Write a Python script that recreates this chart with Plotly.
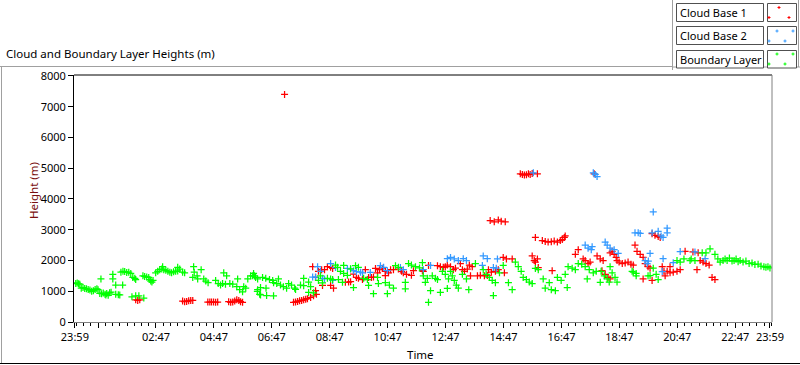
import plotly.graph_objects as go

# ---------------- data (hours after 23:59, height in m) ----------------
cloud_base_1 = [
    (2.10,720),(2.17,700),(2.24,720),
    (3.72,680),(3.79,660),(3.86,670),(3.93,690),(4.00,700),(4.07,700),
    (4.59,650),(4.66,650),(4.72,650),(4.79,650),(4.86,640),(4.93,650),
    (5.31,660),(5.38,640),(5.45,650),(5.52,680),(5.59,720),(5.66,700),(5.72,660),(5.79,640),
    (7.24,7400),
    (7.55,640),(7.62,650),(7.69,670),(7.76,690),(7.83,700),(7.90,720),(7.97,740),(8.03,760),
    (8.14,800),(8.24,850),(8.34,900),
    (8.21,1800),(8.31,1450),(8.31,1020),
    (8.41,1650),(8.52,1700),(8.62,1700),(8.55,1190),
    (8.72,1800),(8.83,1780),(8.90,1740),(8.83,1190),(8.93,1100),
    (9.34,1290),(9.45,1300),(9.52,1310),
    (9.62,1560),(9.72,1450),(9.79,1420),(9.93,1380),
    (10.03,1700),(10.14,1450),(10.24,1450),(10.31,1460),(10.38,1740),
    (10.45,1600),(10.52,1700),(10.62,1750),(10.72,1650),(10.83,1600),(10.90,1700),(10.72,1510),
    (11.00,1700),(11.17,1720),(11.28,1650),(11.34,1600),(11.45,1550),(11.62,1520),(11.69,1670),
    (12.00,1670),(12.03,1650),(12.21,1840),
    (12.52,1830),(12.62,1800),(12.72,1780),(12.79,1800),(12.86,1850),
    (12.97,1800),(13.07,1700),(13.14,1750),
    (13.31,1900),(13.38,1700),(13.45,1650),(13.55,1720),(13.62,1850),(13.72,1800),(13.66,1500),
    (13.90,1500),(14.00,1520),(14.14,1500),(14.24,1510),
    (14.28,1700),(14.38,1620),(14.52,1650),(14.62,1700),
    (14.34,3300),(14.48,3260),(14.62,3320),(14.72,3280),(14.86,3260),
    (14.79,2100),(14.90,2050),(15.10,2050),(14.83,1600),
    (15.38,4820),(15.45,4800),(15.52,4780),(15.59,4790),(15.66,4820),(15.72,4800),(15.79,4830),(15.97,4820),
    (15.79,2150),(15.86,2000),(15.90,1950),(15.97,2050),(16.00,1770),
    (15.90,2750),
    (16.14,2650),(16.24,2620),(16.34,2600),(16.45,2610),(16.55,2630),(16.66,2600),(16.76,2650),(16.83,2680),(16.90,2750),(16.93,2800),
    (16.48,1670),
    (17.28,2200),(17.38,2350),(17.55,2050),(17.62,2000),(17.72,1900),(17.79,1950),
    (17.93,4820),
    (18.03,2150),(18.14,2050),(18.24,2000),(18.20,1670),
    (18.31,1550),(18.41,1450),(18.48,1400),
    (18.48,2250),(18.55,2300),(18.62,2200),(18.69,2100),(18.72,2000),
    (18.79,1950),(18.90,1900),(19.00,1920),(19.10,1950),(19.20,1880),(19.28,1850),
    (19.34,2500),(19.41,2300),(19.52,2200),(19.62,2100),
    (19.69,1900),(19.79,1800),(19.86,1750),(19.62,1400),(19.93,1350),
    (19.93,2870),(20.03,2820),(20.14,2780),(20.21,2750),
    (20.28,1800),(20.34,1650),(20.38,1500),
    (20.45,1650),(20.55,1600),(20.66,1620),(20.79,1650),(20.90,1700),(20.55,1800),
    (21.07,2300),(21.34,2280),(21.52,2250),(21.48,1700),
    (21.59,2000),(21.69,1950),(21.79,1900),(21.90,1850),
    (22.00,1450),(22.10,1380),
]

cloud_base_2 = [
    (8.21,1460),(8.31,1460),(8.38,1800),(8.48,1650),(8.55,1420),(8.62,1400),
    (8.83,1900),(8.90,1350),(9.00,1770),
    (9.41,1740),(9.52,1720),(9.62,1670),(9.72,1640),(9.86,1620),(9.93,1600),
    (10.20,1610),(10.55,1830),(10.66,1780),(10.79,1670),
    (11.24,1770),(11.34,1700),(12.03,1700),(12.28,1840),(12.86,2060),
    (12.97,2100),(13.10,2050),(13.24,2000),(13.41,2060),(13.52,2000),
    (14.07,1840),(14.10,2150),(14.24,2060),(14.45,1770),(14.55,1750),(14.59,2050),
    (15.83,4850),
    (17.62,2500),(17.72,2400),(17.83,2350),(17.86,2450),
    (17.90,4850),(17.97,4800),(18.03,4730),
    (18.31,2600),(18.38,2500),(18.48,2400),(18.62,2350),(18.76,2230),
    (19.34,2900),(19.45,2900),(19.52,2880),
    (19.69,2000),(19.76,1900),(19.80,1980),(19.86,2230),
    (19.93,2900),(19.97,3580),
    (20.14,2950),(20.24,2800),(20.31,2750),(20.45,3050),(20.45,2900),
    (20.28,1640),(20.31,2060),(20.66,1930),(20.90,2290),
    (21.41,2280),(21.76,2060),
]

boundary_layer = [
    (0.03,1250),(0.08,1270),(0.13,1240),(0.17,1230),
    (0.22,1100),(0.28,1120),(0.34,1090),(0.40,1080),(0.46,1060),(0.52,1040),(0.58,1000),(0.64,1020),(0.70,1060),(0.76,1080),(0.80,1050),
    (0.86,930),(0.92,920),(0.98,940),(1.04,900),(1.10,930),(0.90,1400),
    (1.07,880),(1.15,870),(1.20,950),(1.25,970),
    (1.31,1550),(1.31,1400),(1.41,1200),
    (1.41,900),(1.50,890),(1.55,880),
    (1.59,1620),(1.66,1650),(1.72,1640),(1.79,1610),(1.86,1620),(1.93,1580),(1.65,1200),
    (1.97,820),(2.00,1450),(2.07,1420),(2.10,1380),(2.10,850),(2.21,850),(2.38,780),
    (2.35,1500),(2.41,1480),(2.48,1460),(2.55,1450),
    (2.59,1380),(2.62,1330),(2.66,1300),(2.70,1350),
    (2.79,1600),(2.86,1650),(2.93,1700),(3.00,1720),(3.07,1700),(3.03,1800),
    (3.14,1680),(3.21,1650),(3.28,1620),(3.34,1600),(3.41,1630),(3.48,1650),(3.55,1660),(3.55,1780),(3.62,1720),(3.72,1620),(3.79,1600),
    (4.07,1450),(4.10,1800),(4.12,1620),(4.22,1500),(4.24,1400),(4.36,1700),(4.45,1400),(4.52,1330),(4.60,1280),
    (4.86,1350),(4.95,1250),(5.03,1200),(5.14,1600),(5.24,1500),(5.10,1250),(5.20,1230),(5.35,1250),(5.45,1230),
    (5.62,1400),(5.59,1150),(5.69,1050),(5.79,980),(5.83,1150),(5.90,1100),
    (5.97,1400),(6.07,1500),(6.17,1580),(6.20,1500),(6.30,1000),(6.38,900),
    (6.14,1500),(6.24,1450),(6.31,1400),(6.31,1050),
    (6.48,1450),(6.59,1420),(6.72,1380),(6.83,1350),(6.41,1120),(6.60,1100),
    (6.41,880),(6.62,860),(6.86,850),
    (6.86,1280),(6.97,1250),(7.10,1200),(7.20,1150),(7.31,1100),(7.03,1400),
    (7.38,1250),(7.48,1200),(7.59,1100),(7.62,1060),
    (7.79,1200),(7.90,1180),(7.90,1420),(8.07,1300),(8.14,1150),(8.07,960),(8.24,950),
    (8.41,1350),(8.55,1270),(8.48,1500),(8.72,1420),(8.83,1400),(8.90,1380),
    (9.00,1850),(9.07,1780),(9.10,1380),(9.17,1650),(9.28,1580),(9.41,1520),(9.28,1840),(9.24,1290),
    (9.52,1730),(9.69,1830),(9.79,1780),(9.62,1120),(9.97,1420),(10.10,1380),(10.14,1190),(10.31,920),
    (10.45,1450),(10.48,1250),(10.72,1280),(10.86,1200),(11.00,1100),(10.79,920),
    (11.07,1830),(11.17,1780),(11.41,1290),(11.41,1080),
    (11.52,1900),(11.62,1850),(11.76,1800),(11.90,1760),(12.00,1930),
    (12.03,1500),(12.17,1420),(12.10,1290),(12.21,640),(12.28,1020),
    (12.34,1500),(12.45,1420),(12.52,1380),(12.62,960),
    (12.69,1650),(12.79,1550),(12.90,1400),(12.86,1090),
    (12.97,1650),(13.03,1500),(13.10,1350),(13.17,1200),(13.24,1100),(13.38,1550),(13.52,1400),(13.60,1050),
    (13.83,1900),(14.10,1700),(14.20,1550),(14.31,1450),(14.41,1350),(14.52,1280),(14.66,1600),(14.45,860),
    (14.79,1840),(14.97,1280),(15.10,1050),(15.21,1950),(15.31,1800),(15.41,1650),
    (15.48,1450),(15.59,1380),(15.69,1300),(15.79,1250),(15.90,1740),(16.00,1700),
    (16.17,1400),(16.38,1280),(16.24,1100),(16.45,1050),(16.59,1020),
    (16.66,1450),(16.79,1350),(16.93,1550),(17.03,1800),(17.17,1750),(17.28,1700),(17.00,1120),
    (17.38,1900),(17.50,1880),(17.62,1800),(17.76,1700),(17.90,1600),(18.00,1650),(17.69,1400),
    (18.14,1290),(18.17,1650),(18.28,1500),(18.38,1400),(18.45,1300),
    (18.48,1800),(18.55,1600),(18.65,1450),(18.72,1300),
    (19.24,1650),(19.28,1620),(19.38,1500),(19.38,1580),(19.79,1500),(19.86,1510),
    (19.97,1750),(20.07,1550),(20.14,1380),
    (20.79,2000),(20.90,1950),(21.03,2050),(21.24,2000),(21.28,2050),(21.41,2000),
    (21.66,2250),(21.79,2250),(21.93,2380),
    (22.10,2200),(22.20,2050),(22.28,1950),(22.38,2000),
    (22.45,2050),(22.52,2000),(22.60,2080),(22.69,1980),(22.76,2000),(22.83,2050),(22.90,1960),(22.97,2000),
    (23.07,1950),(23.17,1980),(23.28,1900),(23.38,1920),(23.48,1870),(23.59,1880),(23.69,1820),(23.79,1800),
    (23.86,1780),(23.93,1800),(24.00,1760),
]

series_names = ["Cloud Base 1", "Cloud Base 2", "Boundary Layer"]
series_colors = ["#ff0000", "#3399ff", "#00ff00"]
series_data = [cloud_base_1, cloud_base_2, boundary_layer]

x_tick_hours = [0, 0.8, 2.8, 4.8, 6.8, 8.8, 10.8, 12.8, 14.8, 16.8, 18.8, 20.8, 22.8, 24]
x_tick_labels = ["23:59", "", "02:47", "04:47", "06:47", "08:47", "10:47", "12:47",
                 "14:47", "16:47", "18:47", "20:47", "22:47", "23:59"]
y_tick_values = [0, 1000, 2000, 3000, 4000, 5000, 6000, 7000, 8000]

# ---------------- layout geometry ----------------
W, H = 800, 365
L, R, T, B = 74, 28, 75, 43
PW, PH = W - L - R, H - T - B
FONT = "Noto Sans"


def pxx(x):
    return (x - L) / PW


def pxy(y):
    return (H - B - y) / PH


fig = go.Figure()
for name, data, color in zip(series_names, series_data, series_colors):
    xs = [p[0] for p in data]
    ys = [p[1] for p in data]
    fig.add_trace(go.Scatter(
        x=xs, y=ys, mode="markers", name=name, showlegend=False,
        marker=dict(symbol="cross-thin", size=5, color=color,
                    line=dict(color=color, width=1.25)),
        hoverinfo="skip"))

shapes = []
# plot frame: top black, right gray
shapes.append(dict(type="line", xref="paper", yref="paper", x0=0, x1=1, y0=1, y1=1,
                   line=dict(color="black", width=1)))
shapes.append(dict(type="line", xref="paper", yref="paper", x0=1, x1=1, y0=0, y1=1,
                   line=dict(color="#808080", width=1)))
# outer frame
shapes.append(dict(type="line", xref="paper", yref="paper", x0=pxx(0), x1=pxx(673),
                   y0=pxy(66.5), y1=pxy(66.5), line=dict(color="#a0a0a0", width=1)))
shapes.append(dict(type="line", xref="paper", yref="paper", x0=pxx(1.5), x1=pxx(1.5),
                   y0=pxy(66.5), y1=pxy(363.5), line=dict(color="#a0a0a0", width=1)))
shapes.append(dict(type="line", xref="paper", yref="paper", x0=pxx(0), x1=pxx(800),
                   y0=pxy(363.5), y1=pxy(363.5), line=dict(color="black", width=1)))
# legend panel edges
shapes.append(dict(type="line", xref="paper", yref="paper", x0=pxx(672.5), x1=pxx(672.5),
                   y0=pxy(0), y1=pxy(70), line=dict(color="#a0a0a0", width=1)))
shapes.append(dict(type="line", xref="paper", yref="paper", x0=pxx(672.5), x1=pxx(800),
                   y0=pxy(67), y1=pxy(67), line=dict(color="#a0a0a0", width=1)))
shapes.append(dict(type="line", xref="paper", yref="paper", x0=pxx(798.5), x1=pxx(798.5),
                   y0=pxy(0), y1=pxy(67), line=dict(color="#a0a0a0", width=1)))

annotations = []
# legend boxes
rows_y = [(3.5, 21.5), (26.5, 44.5), (50.5, 68)]
cross_pos = [
    [(779, 7.5), (769, 17.5), (789, 17.5)],
    [(777, 31), (793, 31), (769, 41), (785, 41)],
    [(777, 54), (793, 54), (769, 64), (785, 64)],
]
for (ya, yb), name, color, crosses in zip(rows_y, series_names, series_colors, cross_pos):
    shapes.append(dict(type="rect", xref="paper", yref="paper",
                       x0=pxx(676.5), x1=pxx(763.5), y0=pxy(yb), y1=pxy(ya),
                       line=dict(color="#505050", width=1), fillcolor="white"))
    shapes.append(dict(type="rect", xref="paper", yref="paper",
                       x0=pxx(767.5), x1=pxx(796.5), y0=pxy(yb), y1=pxy(ya),
                       line=dict(color="#505050", width=1), fillcolor="white"))
    annotations.append(dict(xref="paper", yref="paper", x=pxx(678), y=pxy((ya + yb) / 2),
                            text=name, showarrow=False, xanchor="left", yanchor="middle",
                            font=dict(family=FONT, size=11, color="black")))
    for cx, cy in crosses:
        shapes.append(dict(type="line", xref="paper", yref="paper",
                           x0=pxx(cx - 1.5), x1=pxx(cx + 1.5), y0=pxy(cy), y1=pxy(cy),
                           line=dict(color=color, width=1)))
        shapes.append(dict(type="line", xref="paper", yref="paper",
                           x0=pxx(cx), x1=pxx(cx), y0=pxy(cy - 1.5), y1=pxy(cy + 1.5),
                           line=dict(color=color, width=1)))

# chart title
annotations.append(dict(xref="paper", yref="paper", x=pxx(4), y=pxy(53),
                        text="Cloud and Boundary Layer Heights (m)", showarrow=False,
                        xanchor="left", yanchor="middle",
                        font=dict(family=FONT, size=11.5, color="black")))
# axis titles
annotations.append(dict(xref="paper", yref="paper", x=pxx(33), y=pxy(191),
                        text="Height (m)", showarrow=False, textangle=-90,
                        xanchor="center", yanchor="middle",
                        font=dict(family=FONT, size=11.5, color="#7a0f0f")))
annotations.append(dict(xref="paper", yref="paper", x=pxx(420), y=pxy(354),
                        text="Time", showarrow=False, xanchor="center", yanchor="middle",
                        font=dict(family=FONT, size=11.5, color="black")))

fig.update_layout(
    width=W, height=H,
    margin=dict(l=L, r=R, t=T, b=B, pad=0),
    paper_bgcolor="white", plot_bgcolor="white",
    font=dict(family=FONT, size=11, color="black"),
    shapes=shapes, annotations=annotations,
    xaxis=dict(range=[-0.03, 24.07], showgrid=False, zeroline=False,
               showline=True, linecolor="#808080", linewidth=1,
               tickmode="array", tickvals=x_tick_hours, ticktext=x_tick_labels,
               ticks="outside", ticklen=5, tickcolor="black", tickwidth=1,
               tickfont=dict(family=FONT, size=11, color="black"),
               minor=dict(ticks="outside", ticklen=3, tickcolor="black", tickwidth=1,
                          tick0=0.8, dtick=0.25, showgrid=False)),
    yaxis=dict(range=[0, 8032], showgrid=False, zeroline=False,
               showline=True, linecolor="black", linewidth=1,
               tickmode="array", tickvals=y_tick_values,
               ticks="outside", ticklen=5, tickcolor="black", tickwidth=1,
               tickfont=dict(family=FONT, size=11, color="black")),
)

fig.write_html("out.html", config={"displayModeBar": False},
               post_script="document.body.style.margin='0px';document.body.style.overflow='hidden';")
